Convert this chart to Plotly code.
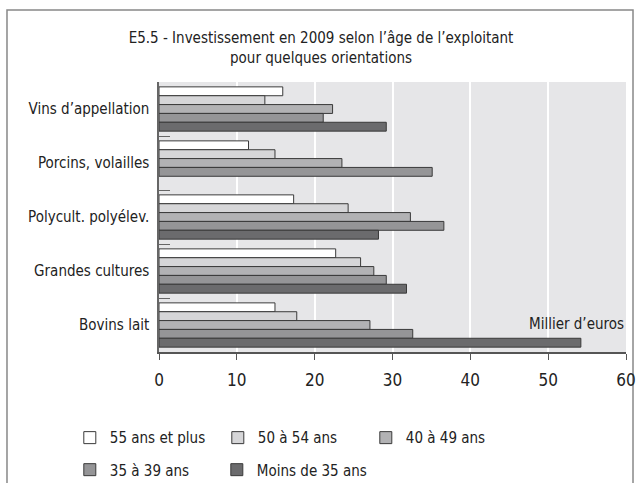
import plotly.graph_objects as go

categories = ["Vins d’appellation", "Porcins, volailles", "Polycult. polyélev.",
              "Grandes cultures", "Bovins lait"]
series_names = ["55 ans et plus", "50 à 54 ans", "40 à 49 ans", "35 à 39 ans", "Moins de 35 ans"]
v_55_plus = [15.9, 11.5, 17.3, 22.7, 14.9]
v_50_54 = [13.6, 14.9, 24.3, 25.9, 17.7]
v_40_49 = [22.3, 23.5, 32.3, 27.6, 27.1]
v_35_39 = [21.1, 35.1, 36.6, 29.2, 32.6]
v_moins_35 = [29.2, None, 28.2, 31.8, 54.2]
series_values = [v_55_plus, v_50_54, v_40_49, v_35_39, v_moins_35]
colors = ["#ffffff", "#d6d6d8", "#b2b2b4", "#959597", "#6b6b6d"]
legend_ids = ["legend", "legend", "legend", "legend2", "legend3"]
x_ticks = [0, 10, 20, 30, 40, 50, 60]

FONT = "DejaVu Sans Condensed, sans-serif"

fig = go.Figure()
for name, vals, col, lg in zip(series_names, series_values, colors, legend_ids):
    fig.add_trace(go.Bar(
        y=categories, x=vals, name=name, orientation="h", legend=lg,
        marker=dict(color=col, line=dict(color="#3a3a3a", width=1)),
    ))


def legend_style(x, y, entrywidth=103):
    return dict(
        x=x, y=y, orientation="h", xanchor="left", yanchor="top",
        entrywidth=entrywidth, entrywidthmode="pixels", traceorder="normal",
        font=dict(size=15, family=FONT, color="#222222"),
        itemwidth=30, bgcolor="rgba(0,0,0,0)",
    )


fig.update_layout(
    width=642, height=483,
    margin=dict(l=159, r=16, t=82, b=131, autoexpand=False),
    paper_bgcolor="white", plot_bgcolor="#e6e6e8",
    barmode="group", bargap=0.18, bargroupgap=0,
    font=dict(family=FONT, color="#222222", size=15),
    title=dict(
        text="E5.5 - Investissement en 2009 selon l’âge de l’exploitant<br>pour quelques orientations",
        x=0.5, xanchor="center", y=0.91, yanchor="middle",
        font=dict(family=FONT, size=15, color="#222222"),
    ),
    xaxis=dict(
        range=[0, 60], tickvals=x_ticks, showgrid=True, gridcolor="white", gridwidth=1.5,
        zeroline=False, showline=True, linecolor="#555555", linewidth=1.5,
        ticks="outside", ticklen=6, tickcolor="#555555", ticklabelstandoff=6,
        tickfont=dict(size=17, family=FONT, color="#222222"),
        automargin=False,
    ),
    yaxis=dict(
        autorange="reversed", showgrid=False, zeroline=False,
        showline=True, linecolor="#666666", linewidth=1.5,
        ticks="inside", tickson="boundaries", ticklen=11, tickcolor="#666666",
        ticklabelstandoff=5, automargin=False,
        tickfont=dict(size=15, family=FONT, color="#222222"),
    ),
    legend=legend_style(-0.191, -0.257),
    legend2=legend_style(-0.191, -0.3756),
    legend3=legend_style(0.1238, -0.3756, entrywidth=160),
    showlegend=True,
    annotations=[dict(
        text="Millier d’euros", xref="paper", yref="paper", x=1.0, y=0.063,
        xanchor="right", yanchor="bottom", showarrow=False,
        font=dict(size=15, family=FONT, color="#222222"),
    )],
    shapes=[dict(
        type="rect", xref="paper", yref="paper",
        x0=-0.3255, x1=1.015, y0=-0.55, y1=1.2667,
        line=dict(color="#888888", width=1.5), fillcolor="rgba(0,0,0,0)", layer="below",
    )],
)

fig.write_html(
    "out.html",
    config={"displayModeBar": False},
    post_script="document.body.style.margin='0px';document.body.style.padding='0px';",
)
